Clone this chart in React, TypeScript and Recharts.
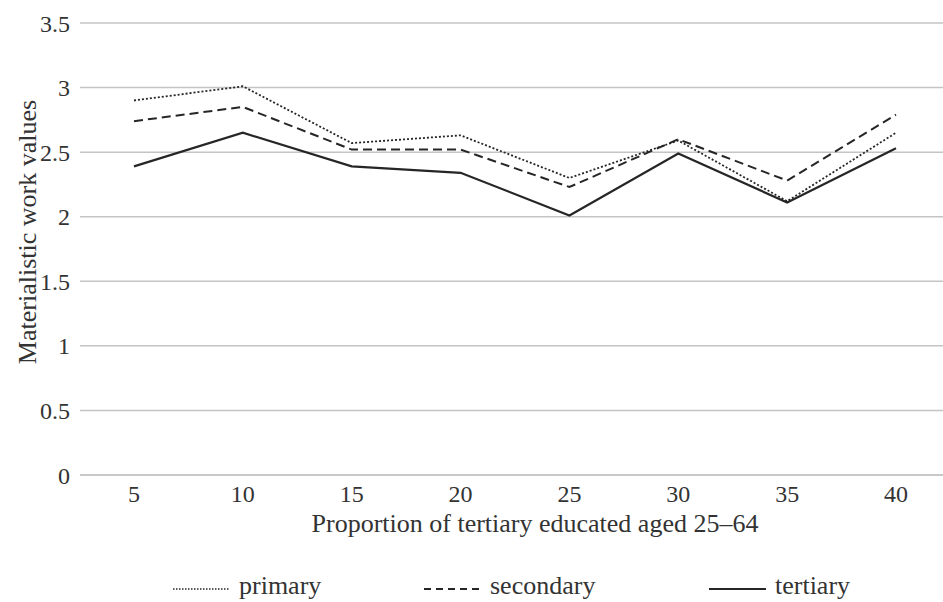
import React from 'react';
import { LineChart, Line, XAxis, YAxis, CartesianGrid } from 'recharts';

const categories = ['5', '10', '15', '20', '25', '30', '35', '40'];
const primary = [2.9, 3.01, 2.57, 2.63, 2.3, 2.59, 2.12, 2.65];
const secondary = [2.74, 2.85, 2.52, 2.52, 2.23, 2.6, 2.28, 2.79];
const tertiary = [2.39, 2.65, 2.39, 2.34, 2.01, 2.49, 2.11, 2.53];
const yTicks = [0, 0.5, 1, 1.5, 2, 2.5, 3, 3.5];

const FONT = '"Liberation Serif", "DejaVu Serif", serif';
const TEXT = '#333333';
const GRID = '#c4c4c4';
const INK = '#262626';

const series = [
  { key: 'primary', name: 'primary', dash: '2 2', width: 1.8, legendDash: '1.5 1.5', legendWidth: 1.5, left: 173 },
  { key: 'secondary', name: 'secondary', dash: '9 5', width: 2, legendDash: '7 5', legendWidth: 2, left: 424 },
  { key: 'tertiary', name: 'tertiary', dash: undefined, width: 2.2, legendDash: undefined, legendWidth: 2.2, left: 709 },
];

const data = categories.map((c, i) => ({
  x: c,
  primary: primary[i],
  secondary: secondary[i],
  tertiary: tertiary[i],
}));

// rotated y-axis title, placed a little above the plot's middle like the original
const YTitle = ({ viewBox }: any) => {
  const x = viewBox.x + 27;
  const y = viewBox.y + viewBox.height / 2 - 17;
  return (
    <text
      x={x}
      y={y}
      transform={`rotate(-90, ${x}, ${y})`}
      textAnchor="middle"
      dominantBaseline="central"
      fill={TEXT}
      fontSize={26}
      fontFamily={FONT}
    >
      Materialistic work values
    </text>
  );
};

// x-axis title sits slightly right of the plot centre in the original
const XTitle = ({ viewBox }: any) => (
  <text
    x={viewBox.x + viewBox.width / 2 + 20}
    y={viewBox.y + 57}
    textAnchor="middle"
    fill={TEXT}
    fontSize={26}
    fontFamily={FONT}
  >
    Proportion of tertiary educated aged 25–64
  </text>
);

export default function App() {
  return (
    <div
      style={{
        position: 'absolute',
        left: 0,
        top: 0,
        width: 943,
        height: 602,
        overflow: 'hidden',
        background: '#fff',
        fontFamily: FONT,
      }}
    >
      <LineChart
        width={960}
        height={545}
        data={data}
        margin={{ top: 23, right: 10, left: 0, bottom: 0 }}
      >
        <CartesianGrid vertical={false} stroke={GRID} strokeWidth={1.5} />
        <XAxis
          dataKey="x"
          height={70}
          padding={{ left: 54, right: 54 }}
          tickLine={false}
          tickSize={0}
          tickMargin={10}
          axisLine={{ stroke: GRID, strokeWidth: 1.5 }}
          tick={{ fill: TEXT, fontSize: 24, fontFamily: FONT }}
          label={<XTitle />}
        />
        <YAxis
          width={80}
          domain={[0, 3.5]}
          ticks={yTicks}
          interval={0}
          tickLine={false}
          tickSize={0}
          tickMargin={10}
          axisLine={false}
          tick={{ fill: TEXT, fontSize: 24, fontFamily: FONT }}
          label={<YTitle />}
        />
        {series.map((s) => (
          <Line
            key={s.key}
            type="linear"
            dataKey={s.key}
            name={s.name}
            stroke={INK}
            strokeWidth={s.width}
            strokeDasharray={s.dash}
            dot={false}
            activeDot={false}
            isAnimationActive={false}
          />
        ))}
      </LineChart>

      {/* Legend */}
      {series.map((s) => (
        <div
          key={s.key}
          style={{
            position: 'absolute',
            left: s.left,
            top: 571,
            display: 'flex',
            alignItems: 'center',
            fontSize: 26,
            color: TEXT,
            lineHeight: '30px',
            height: 30,
            whiteSpace: 'nowrap',
          }}
        >
          <svg width={57} height={10} style={{ marginRight: 9, marginTop: 6 }}>
            <line
              x1={0}
              y1={5}
              x2={57}
              y2={5}
              stroke={INK}
              strokeWidth={s.legendWidth}
              strokeDasharray={s.legendDash}
            />
          </svg>
          <span>{s.name}</span>
        </div>
      ))}
    </div>
  );
}
